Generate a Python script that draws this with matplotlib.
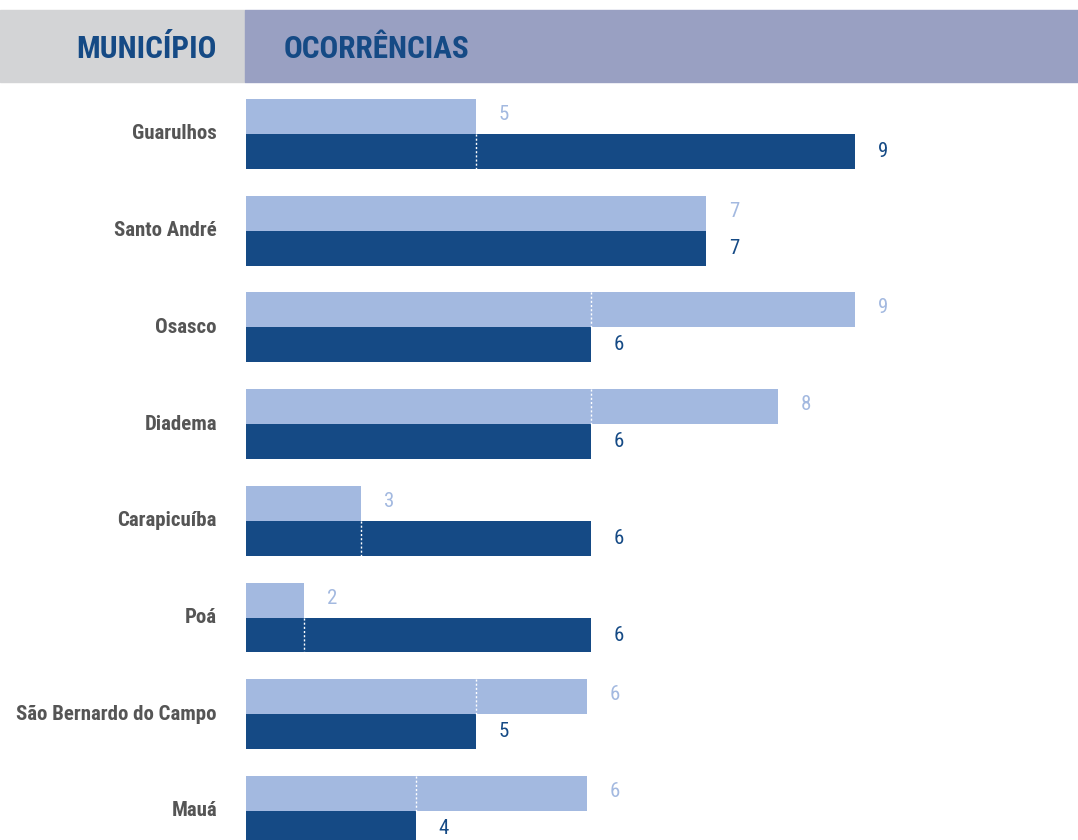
import matplotlib.pyplot as plt
from matplotlib import font_manager
from matplotlib.patches import Rectangle

# municipios e ocorrencias (rotulos)
municipios = ["Guarulhos", "Santo André", "Osasco", "Diadema", "Carapicuíba",
              "Poá", "São Bernardo do Campo", "Mauá"]
rot_claro = [5, 7, 9, 8, 3, 2, 6, 6]
rot_escuro = [9, 7, 6, 6, 6, 6, 5, 4]

# comprimento das barras (mesma escala onde 9 = barra mais longa)
barra_claro = [3.40, 6.80, 9.00, 7.86, 1.70, 0.86, 5.04, 5.04]
barra_escuro = [9.00, 6.80, 5.10, 5.10, 5.10, 5.10, 3.40, 2.51]

CLARO = "#a3b9e0"
ESCURO = "#154a85"

nomes = {f.name for f in font_manager.fontManager.ttflist}
fonte = "Roboto"
for f in ["Roboto Condensed", "Liberation Sans Narrow", "Roboto"]:
    if f in nomes:
        fonte = f
        break
plt.rcParams["font.family"] = [fonte, "DejaVu Sans"]

W, H = 1078, 840
fig = plt.figure(figsize=(W / 100, H / 100), dpi=100)

# faixa do cabecalho
fig.patches.append(Rectangle((0, 1 - 82 / H), 245 / W, 72 / H, transform=fig.transFigure,
                             color="#d3d4d6", zorder=0))
fig.patches.append(Rectangle((245 / W, 1 - 82 / H), 1 - 245 / W, 72 / H, transform=fig.transFigure,
                             color="#99a0c2", zorder=0))
fig.text(217 / W, 1 - 49 / H, "MUNICÍPIO", ha="right", va="center", fontsize=22.5,
         fontweight="bold", color=ESCURO)
fig.text(284 / W, 1 - 49 / H, "OCORRÊNCIAS", ha="left", va="center", fontsize=22.5,
         fontweight="bold", color=ESCURO)

ax = fig.add_axes([246 / W, 0, 1 - 246 / W, (H - 82) / H])
ax.set_xlim(0, 832 / 67.67)
ax.set_ylim(7.30, -0.537)
ax.axis("off")

h = 0.361
y = list(range(len(municipios)))
ax.barh([i - h / 2 for i in y], barra_claro, height=h, color=CLARO)
ax.barh([i + h / 2 for i in y], barra_escuro, height=h, color=ESCURO)

for i in y:
    c, e = barra_claro[i], barra_escuro[i]
    if c < e:
        ax.vlines(c, i, i + h, colors="white", linestyles=(0, (1.5, 1.5)), lw=1)
    elif e < c:
        ax.vlines(e, i - h, i, colors="white", linestyles=(0, (1.5, 1.5)), lw=1)
    ax.annotate(str(rot_claro[i]), (c, i - h / 2), xytext=(28, 2), textcoords="offset pixels",
                ha="center", va="center", fontsize=15, color=CLARO)
    ax.annotate(str(rot_escuro[i]), (e, i + h / 2), xytext=(28, 0), textcoords="offset pixels",
                ha="center", va="center", fontsize=15, color=ESCURO)
    ax.annotate(municipios[i], (0, i), xytext=(-29, 0), textcoords="offset pixels",
                ha="right", va="center", fontsize=15, fontweight="bold", color="#555555",
                annotation_clip=False)

fig.savefig("out.png", dpi=100)
